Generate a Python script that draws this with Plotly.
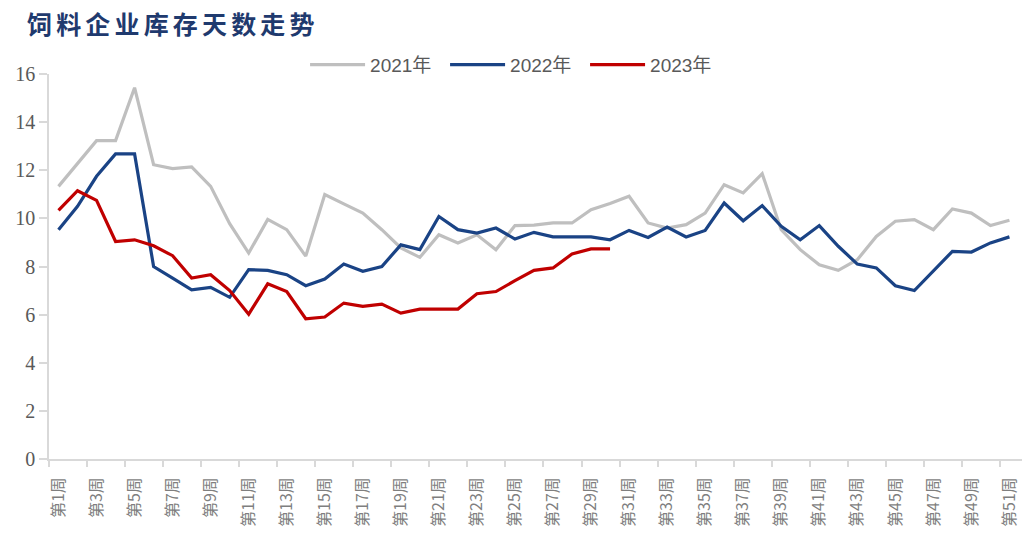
import plotly.graph_objects as go

# Weekly feed-mill inventory days
weeks = list(range(1, 52))
week_labels = [f"第{w}周" for w in weeks]

inv_2021 = [11.33, 12.3, 13.23, 13.23, 15.43, 12.23, 12.07, 12.14, 11.33, 9.78,
            8.56, 9.96, 9.53, 8.43, 10.99, 10.6, 10.22, 9.53, 8.77, 8.38,
            9.32, 8.98, 9.32, 8.7, 9.7, 9.72, 9.81, 9.81, 10.36, 10.62,
            10.92, 9.81, 9.6, 9.74, 10.22, 11.4, 11.06, 11.86, 9.53, 8.7,
            8.07, 7.84, 8.28, 9.25, 9.88, 9.95, 9.53, 10.39, 10.22, 9.7,
            9.92]

inv_2022 = [9.53, 10.5, 11.75, 12.68, 12.68, 8.0, 7.52, 7.03, 7.13, 6.72,
            7.87, 7.84, 7.66, 7.2, 7.48, 8.1, 7.8, 8.0, 8.9, 8.7,
            10.08, 9.53, 9.39, 9.6, 9.14, 9.42, 9.23, 9.23, 9.23, 9.11,
            9.5, 9.21, 9.64, 9.23, 9.5, 10.64, 9.9, 10.53, 9.67, 9.11,
            9.7, 8.84, 8.1, 7.94, 7.2, 7.0, 7.8, 8.63, 8.6, 8.98,
            9.23]

inv_2023 = [10.33, 11.15, 10.75, 9.04, 9.11, 8.86, 8.45, 7.52, 7.66, 7.0,
            6.02, 7.28, 6.96, 5.83, 5.9, 6.48, 6.34, 6.44, 6.06, 6.23,
            6.23, 6.23, 6.87, 6.96, 7.41, 7.84, 7.94, 8.52, 8.73, 8.73]

series = [
    ("2021年", inv_2021, "#BFBFBF"),
    ("2022年", inv_2022, "#1A4385"),
    ("2023年", inv_2023, "#C00000"),
]

fig = go.Figure()
for name, vals, color in series:
    fig.add_trace(go.Scatter(
        x=weeks[:len(vals)], y=vals, name=name, mode="lines",
        line=dict(color=color, width=3.2),
    ))

axis_grey = "#D9D9D9"
label_grey = "#595959"

fig.update_layout(
    width=1022, height=546,
    margin=dict(l=49, r=0, t=74, b=87),
    paper_bgcolor="white", plot_bgcolor="white",
    title=dict(
        text="饲\u2006料\u2006企\u2006业\u2006库\u2006存\u2006天\u2006数\u2006走\u2006势",
        xref="container", yref="container",
        x=27 / 1022, xanchor="left", y=1 - 25 / 546, yanchor="middle",
        font=dict(family="Noto Sans CJK SC", size=25, color="#1F3A6E", weight="bold"),
    ),
    legend=dict(
        orientation="h", xanchor="center", yanchor="middle",
        x=0.479, y=1.024, bgcolor="rgba(0,0,0,0)",
        font=dict(family="Liberation Sans, Noto Sans CJK SC", size=19, color=label_grey),
        itemwidth=55, entrywidth=70,
    ),
    showlegend=True,
)

fig.update_xaxes(
    range=[0.5, 51.66],
    tickmode="array",
    tickvals=weeks[::2], ticktext=week_labels[::2],
    tickangle=-90, ticks="", ticklabelstandoff=10,
    tickfont=dict(family="Noto Sans CJK SC", size=16, color="#7F7F7F"),
    showline=True, linecolor=axis_grey, linewidth=1.5,
    showgrid=False, zeroline=False,
    minor=dict(tickmode="linear", tick0=0.5, dtick=2, ticks="outside",
               ticklen=6, tickcolor=axis_grey, tickwidth=1.5, showgrid=False),
)

fig.update_yaxes(
    range=[0, 16], tickmode="linear", tick0=0, dtick=2,
    ticks="outside", ticklen=8, tickcolor=axis_grey, tickwidth=1.5,
    tickfont=dict(family="Liberation Serif", size=20, color=label_grey),
    showline=True, linecolor=axis_grey, linewidth=1.5,
    showgrid=False, zeroline=False,
)

fig.write_html("out.html")
